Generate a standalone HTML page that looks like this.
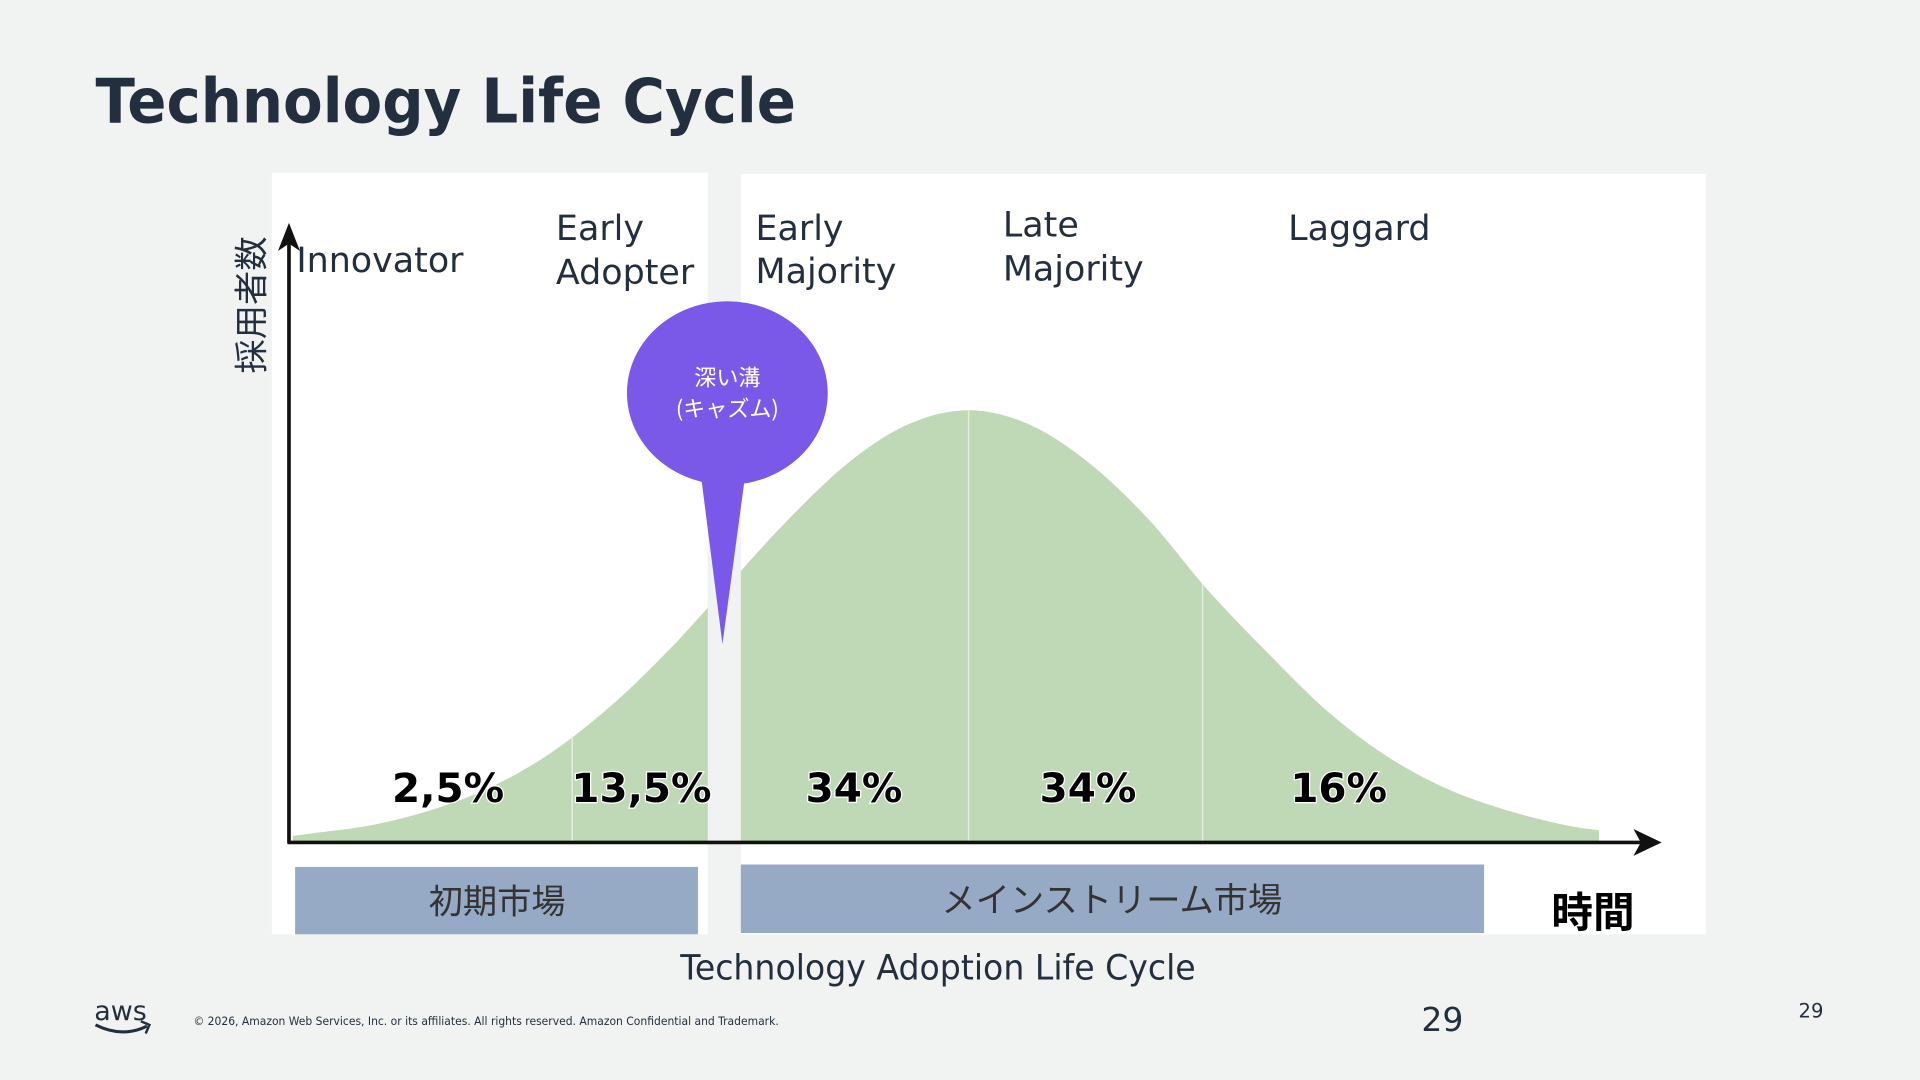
<!DOCTYPE html>
<html><head><meta charset="utf-8"><style>
html,body{margin:0;padding:0;background:#f1f3f2;}
svg{display:block;}
text{font-family:"DejaVu Sans","Liberation Sans","Noto Sans CJK JP",sans-serif;}
.jp{font-family:"Noto Sans CJK JP","Liberation Sans",sans-serif;}
</style></head><body>
<svg id="chart" width="1920" height="1080" viewBox="0 0 1568 882" xmlns="http://www.w3.org/2000/svg">
<rect x="0" y="0" width="1568" height="882" fill="#f1f3f2"/>
<text x="78" y="100" font-size="50" font-weight="bold" fill="#232f3e" textLength="572" lengthAdjust="spacingAndGlyphs">Technology Life Cycle</text>
<rect x="222" y="141" width="356" height="622" fill="#fff"/>
<rect x="605" y="142" width="788" height="621" fill="#fff"/>
<g id="curve-layer"></g>
<rect x="578" y="178" width="27" height="585" fill="#f1f3f2"/>
<g>
<line x1="236" y1="689" x2="236" y2="195" stroke="#111" stroke-width="3"/>
<polygon points="236,182 227,205 236,199 245,205" fill="#111"/>
<line x1="235" y1="688" x2="1345" y2="688" stroke="#111" stroke-width="3"/>
<polygon points="1357,688 1334,677 1340,688 1334,699" fill="#111"/>
</g>
<text class="jp" transform="translate(215,305) rotate(-90)" font-size="28" fill="#232f3e">採用者数</text>
<g font-size="28.5" fill="#232f3e">
<text x="242" y="222">Innovator</text>
<text x="454" y="196">Early<tspan x="454" y="232">Adopter</tspan></text>
<text x="617" y="196">Early<tspan x="617" y="231">Majority</tspan></text>
<text x="819" y="193">Late<tspan x="819" y="229">Majority</tspan></text>
<text x="1052" y="196">Laggard</text>
</g>
<g id="pct-layer"></g>
<g>
<polygon points="572,385 609,385 590,526" fill="#7b59e8"/>
<ellipse cx="594" cy="321" rx="82" ry="75" fill="#7b59e8"/>
<text class="jp" x="594" y="315" font-size="18" fill="#fff" text-anchor="middle">深い溝<tspan x="594" y="340">(キャズム)</tspan></text>
</g>
<rect x="241" y="708" width="329" height="55" fill="#97aac5"/>
<text class="jp" x="406" y="746" font-size="28" fill="#333" text-anchor="middle">初期市場</text>
<rect x="605" y="706" width="607" height="56" fill="#97aac5"/>
<text class="jp" x="908" y="745" font-size="28" fill="#333" text-anchor="middle">メインストリーム市場</text>
<text class="jp" x="1301" y="757" font-size="34" font-weight="bold" fill="#000" text-anchor="middle">時間</text>
<text x="766" y="800" font-size="28" fill="#232f3e" text-anchor="middle" textLength="421" lengthAdjust="spacingAndGlyphs">Technology Adoption Life Cycle</text>
<g>
<text x="77" y="833" font-size="22" fill="#232f3e" font-family="Liberation Sans, sans-serif">aws</text>
<path d="M78,837 Q100,848 120,838" stroke="#232f3e" stroke-width="2.5" fill="none"/>
<path d="M115,834 L122,837 L119,844" stroke="#232f3e" stroke-width="2" fill="none"/>
</g>
<text x="158" y="837" font-size="9.5" fill="#232f3e" font-family="Liberation Sans, sans-serif" textLength="478" lengthAdjust="spacingAndGlyphs">© 2026, Amazon Web Services, Inc. or its affiliates. All rights reserved. Amazon Confidential and Trademark.</text>
<text x="1178" y="842" font-size="27" fill="#232f3e" text-anchor="middle">29</text>
<text x="1479" y="831" font-size="16" fill="#232f3e" text-anchor="middle">29</text>
</svg>
<script>
// curve data: time (in σ units) and relative adopter counts
const curveT = [-2.83,-2.75,-2.5,-2.25,-2,-1.75,-1.5,-1.25,-1,-0.75,-0.5,-0.25,0,0.25,0.5,0.75,1,1.25,1.5,1.75,2,2.25,2.5,2.64];
const curveV = [0.015,0.021,0.040,0.075,0.128,0.207,0.315,0.448,0.600,0.750,0.880,0.968,1,0.968,0.880,0.750,0.585,0.440,0.305,0.200,0.125,0.075,0.040,0.028];
const dividerT = [-1.66,0,0.98];
const pctLabels = ["2,5%","13,5%","34%","34%","16%"];
const pctT = [-2.18,-1.37,-0.48,0.5,1.55];

const NS='http://www.w3.org/2000/svg';
const xS = t => 791 + t*195;
const yS = v => 688 - v*353;
function interp(t){
  for(let i=0;i<curveT.length-1;i++){
    if(t>=curveT[i]&&t<=curveT[i+1]){
      const f=(t-curveT[i])/(curveT[i+1]-curveT[i]);
      return curveV[i]+f*(curveV[i+1]-curveV[i]);
    }
  }
  return 0;
}
const pts = curveT.map((t,i)=>[xS(t),yS(curveV[i])]);
let d = `M${pts[0][0]},688 L${pts[0][0]},${pts[0][1]}`;
for(let i=0;i<pts.length-1;i++){
  const p0=pts[Math.max(0,i-1)],p1=pts[i],p2=pts[i+1],p3=pts[Math.min(pts.length-1,i+2)];
  const c1=[p1[0]+(p2[0]-p0[0])/6,p1[1]+(p2[1]-p0[1])/6];
  const c2=[p2[0]-(p3[0]-p1[0])/6,p2[1]-(p3[1]-p1[1])/6];
  d+=` C${c1[0]},${c1[1]} ${c2[0]},${c2[1]} ${p2[0]},${p2[1]}`;
}
d+=` L${pts[pts.length-1][0]},688 Z`;
const layer=document.getElementById('curve-layer');
const area=document.createElementNS(NS,'path');


area.setAttribute('d',d);
area.setAttribute('fill','#bfd8b6');
layer.appendChild(area);
dividerT.forEach(t=>{
  const l=document.createElementNS(NS,'line');
  
  
  l.setAttribute('x1',xS(t));l.setAttribute('x2',xS(t));
  l.setAttribute('y1',yS(interp(t)));l.setAttribute('y2',688);
  l.setAttribute('stroke','#e4eee0');l.setAttribute('stroke-width','1.2');
  layer.appendChild(l);
});
const pl=document.getElementById('pct-layer');
pctLabels.forEach((s,i)=>{
  const tx=document.createElementNS(NS,'text');
  
  
  tx.setAttribute('x',xS(pctT[i]));tx.setAttribute('y',655);
  tx.setAttribute('text-anchor','middle');
  tx.setAttribute('font-size','33');tx.setAttribute('font-weight','bold');
  tx.setAttribute('fill','#000');tx.setAttribute('stroke','#fff');
  tx.setAttribute('stroke-width','2');tx.setAttribute('paint-order','stroke');
  tx.setAttribute('font-family','Liberation Sans, sans-serif');
  tx.textContent=s;
  pl.appendChild(tx);
});
</script>
</body></html>
